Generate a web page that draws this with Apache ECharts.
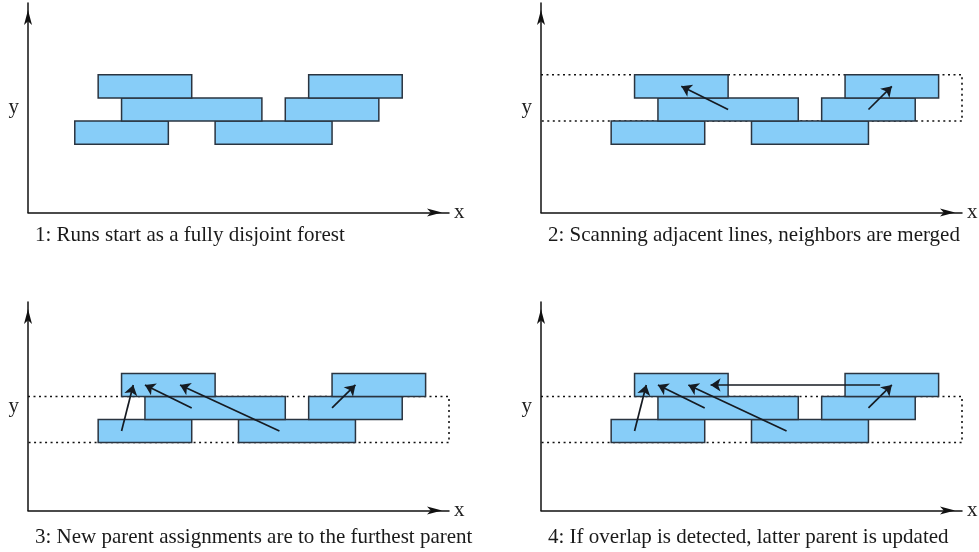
<!DOCTYPE html>
<html>
<head>
<meta charset="utf-8">
<script src="https://cdn.jsdelivr.net/npm/echarts@6/dist/echarts.min.js"></script>
<style>
  html, body { margin: 0; padding: 0; background: #fff; }
  #chart { width: 979px; height: 552px; }
</style>
</head>
<body>
<div id="chart"></div>
<script>
// runs: [xStart, xEnd, scan line]
var runsFirst = [[2, 6, 0], [8, 13, 0], [4, 10, 1], [11, 15, 1], [3, 7, 2], [12, 16, 2]];
var runsLater = [[3, 7, 0], [9, 14, 0], [5, 11, 1], [12, 16, 1], [4, 8, 2], [13, 17, 2]];

// parent links: [xFrom, yFrom, xTo, yTo]
var linksP2 = [[8, 1.5, 6, 2.5], [14, 1.5, 15, 2.5]];
var linksP3 = [[4, 0.5, 4.5, 2.5], [7, 1.5, 5, 2.5], [10.75, 0.5, 6.5, 2.5], [13, 1.5, 14, 2.5]];
var linksP4 = [[4, 0.5, 4.5, 2.5], [7, 1.5, 5, 2.5], [10.5, 0.5, 6.3, 2.5], [14.5, 2.5, 7.25, 2.5], [14, 1.5, 15, 2.5]];

// scan window (dotted): [x0, x1, y0, y1]
var windowP2 = [0, 18, 1, 3];
var windowP3 = [0, 18, 0, 2];
var windowP4 = [0, 18, 0, 2];

var captions = [
    '1: Runs start as a fully disjoint forest',
    '2: Scanning adjacent lines, neighbors are merged',
    '3: New parent assignments are to the furthest parent',
    '4: If overlap is detected, latter parent is updated'
];

var panels = [
    { runs: runsFirst, links: [], win: null, left: 28, top: 3, height: 209.5, capTop: 225 },
    { runs: runsLater, links: linksP2, win: windowP2, left: 541, top: 3, height: 209.5, capTop: 225 },
    { runs: runsLater, links: linksP3, win: windowP3, left: 28, top: 302, height: 208.5, capTop: 527 },
    { runs: runsLater, links: linksP4, win: windowP4, left: 541, top: 302, height: 208.5, capTop: 527 }
];

var serif = 'Liberation Serif';
var ink = '#161b22';

var grid = [], xAxis = [], yAxis = [], series = [], title = [];

panels.forEach(function (p, i) {
    grid.push({ left: p.left, top: p.top, width: 421, height: p.height });
    xAxis.push({
        type: 'value', gridIndex: i, min: 0, max: 18,
        name: 'x', nameLocation: 'end', nameGap: 5,
        nameTextStyle: { fontFamily: serif, fontSize: 21, color: '#222' },
        axisLine: {
            show: true, onZero: false, symbol: ['none', 'arrow'], symbolSize: [6, 15], symbolOffset: [0, -7],
            lineStyle: { color: '#111', width: 1.5 }
        },
        axisTick: { show: false }, axisLabel: { show: false }, splitLine: { show: false }
    });
    yAxis.push({
        type: 'value', gridIndex: i, min: -2.95, max: 6.1,
        name: 'y', nameLocation: 'middle', nameRotate: 0, nameGap: 9,
        nameTextStyle: { fontFamily: serif, fontSize: 21, color: '#222' },
        axisLine: {
            show: true, onZero: false, symbol: ['none', 'arrow'], symbolSize: [6, 15], symbolOffset: [0, -7],
            lineStyle: { color: '#111', width: 1.5 }
        },
        axisTick: { show: false }, axisLabel: { show: false }, splitLine: { show: false }
    });

    if (p.win) {
        var w = p.win;
        series.push({
            type: 'line', xAxisIndex: i, yAxisIndex: i, z: 1,
            symbol: 'none', silent: true, animation: false,
            lineStyle: { color: '#111', width: 1.6, type: [2, 3.5] },
            data: [[w[0], w[3]], [w[1], w[3]], [w[1], w[2]], [w[0], w[2]]]
        });
    }

    series.push({
        type: 'custom', xAxisIndex: i, yAxisIndex: i, z: 2, animation: false,
        encode: { x: [0, 1], y: 2 },
        data: p.runs,
        renderItem: function (params, api) {
            var a = api.coord([api.value(0), api.value(2)]);
            var b = api.coord([api.value(1), api.value(2) + 1]);
            return {
                type: 'rect',
                shape: { x: a[0], y: b[1], width: b[0] - a[0], height: a[1] - b[1] },
                style: { fill: '#87cdf8', stroke: '#2a3440', lineWidth: 1.5 }
            };
        }
    });

    if (p.links.length) {
        series.push({
            type: 'lines', coordinateSystem: 'cartesian2d', xAxisIndex: i, yAxisIndex: i, z: 3,
            animation: false, silent: true,
            symbol: ['none', 'arrow'], symbolSize: 10,
            lineStyle: { color: ink, width: 1.7, opacity: 1 },
            data: p.links.map(function (l) { return { coords: [[l[0], l[1]], [l[2], l[3]]] }; })
        });
    }

    title.push({
        text: captions[i], left: p.left + 7, top: p.capTop, padding: 0,
        textStyle: { fontFamily: serif, fontSize: 21, fontWeight: 'normal', color: '#1a1a1a' }
    });
});

var chart = echarts.init(document.getElementById('chart'));
chart.setOption({
    backgroundColor: '#fff',
    animation: false,
    title: title,
    grid: grid,
    xAxis: xAxis,
    yAxis: yAxis,
    series: series
});
</script>
</body>
</html>
